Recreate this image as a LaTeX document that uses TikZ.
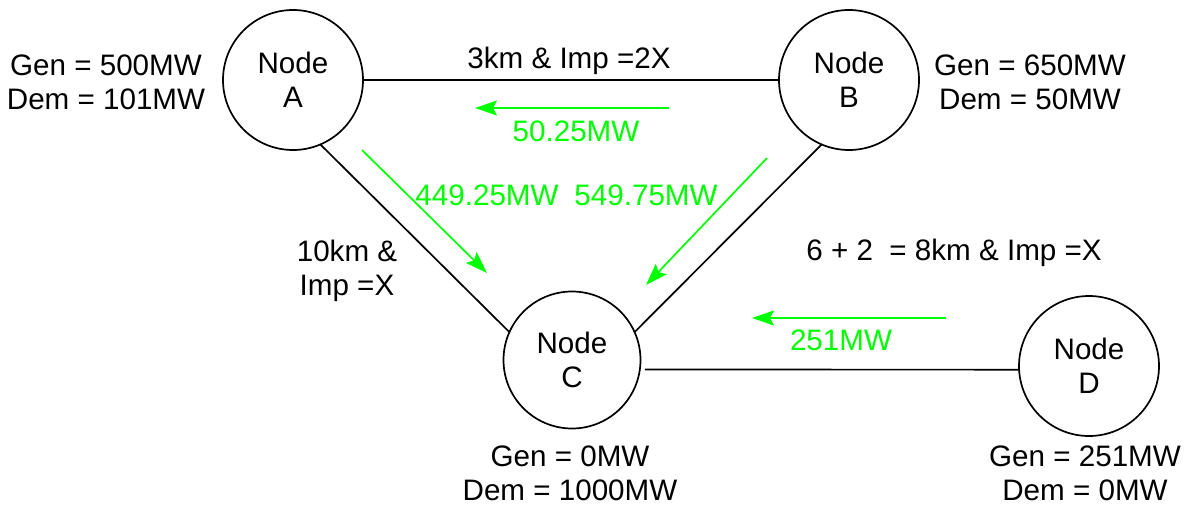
\documentclass[tikz,border=0pt]{standalone}
\usepackage{fontspec}
\setmainfont{Liberation Sans}
\usetikzlibrary{arrows.meta}
\definecolor{flow}{RGB}{0,255,0}
\newcommand\diagfont{\fontsize{29.6}{34}\selectfont}
\begin{document}
\begin{tikzpicture}[x=1pt,y=-1pt,
  bus/.style={circle,draw,line width=1.7pt,minimum size=140pt,inner sep=0pt,outer sep=0pt,align=center,font=\diagfont},
  link/.style={line width=1.7pt},
  flowarrow/.style={draw=flow,line width=1.7pt,-{Stealth[length=22pt,width=15pt,inset=4pt]}},
  lbl/.style={inner sep=0pt,align=center,font=\diagfont},
  flowlbl/.style={lbl,text=flow}]
\fill[white] (0,0) rectangle (1188,508);
\useasboundingbox (0,0) rectangle (1188,508);
% buses
\node[bus] (A) at (293,80) {Node\\A};
\node[bus] (B) at (849,80) {Node\\B};
\node[bus,minimum size=137pt] (C) at (572,360) {Node\\C};
\node[bus] (D) at (1089,366) {Node\\D};
% lines
\draw[link] (A.east) -- (B.west);
\draw[link] (A.-67) -- (C.156);
\draw[link] (B.-113) -- (C.24);
\draw[link] ([xshift=5pt]C.-8) -- (D.183);
% bus data
\node[lbl] (gA) at (106,82) {Gen = 500MW\\Dem = 101MW};
\node[lbl] (gB) at (1030,82) {Gen = 650MW\\Dem = 50MW};
\node[lbl] (gC) at (570,473) {Gen = 0MW\\Dem = 1000MW};
\node[lbl] (gD) at (1085,473) {Gen = 251MW\\Dem = 0MW};
% line data
\node[lbl,anchor=base] (lAB) at (569,69) {3km \& Imp =2X};
\node[lbl] (lAC) at (347,271) {10km \&\\Imp =X};
\node[lbl,anchor=base] (lCD) at (954,260) {6 + 2\ \ = 8km \& Imp =X};
% flows
\coordinate (f1s) at (669,108); \coordinate (f1e) at (475,108);
\coordinate (f2s) at (362,150); \coordinate (f2e) at (487,273);
\coordinate (f3s) at (767,158); \coordinate (f3e) at (646,285);
\coordinate (f4s) at (946,318); \coordinate (f4e) at (752,318);
\draw[flowarrow] (f1s) -- (f1e);
\draw[flowarrow] (f2s) -- (f2e);
\draw[flowarrow] (f3s) -- (f3e);
\draw[flowarrow] (f4s) -- (f4e);
\node[flowlbl,anchor=base] (v1) at (576,142) {50.25MW};
\node[flowlbl,anchor=base] (v2) at (487,205) {449.25MW};
\node[flowlbl,anchor=base] (v3) at (646,205) {549.75MW};
\node[flowlbl,anchor=base] (v4) at (841,350) {251MW};
\end{tikzpicture}
\end{document}
